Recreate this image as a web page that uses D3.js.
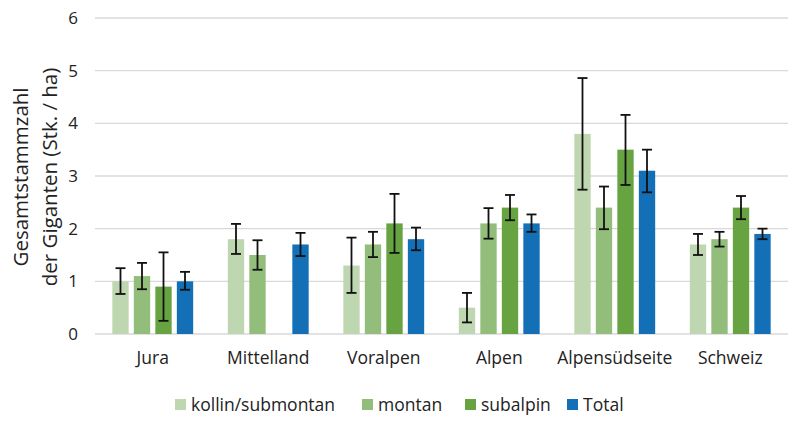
<!DOCTYPE html>
<html>
<head>
<meta charset="utf-8">
<script src="https://cdn.jsdelivr.net/npm/d3@7"></script>
<style>
  body { margin: 0; background: #fff; }
  text { font-family: "Open Sans", sans-serif; fill: #222; }
</style>
</head>
<body>
<svg id="svg"></svg>
<script>
const regions = ["Jura", "Mittelland", "Voralpen", "Alpen", "Alpensüdseite", "Schweiz"];
const series = ["kollin/submontan", "montan", "subalpin", "Total"];
const colors = ["#bfd7b1", "#93bd7b", "#68a341", "#136fb6"];

// values per series, in region order (null = no bar)
const kollinVals   = [1.0, 1.8, 1.3, 0.5, 3.8, 1.7];
const montanVals   = [1.1, 1.5, 1.7, 2.1, 2.4, 1.8];
const subalpinVals = [0.9, null, 2.1, 2.4, 3.5, 2.4];
const totalVals    = [1.0, 1.7, 1.8, 2.1, 3.1, 1.9];

// error bars [low, high]
const kollinErr   = [[0.76, 1.25], [1.52, 2.09], [0.78, 1.83], [0.22, 0.78], [2.74, 4.86], [1.50, 1.90]];
const montanErr   = [[0.85, 1.35], [1.22, 1.78], [1.46, 1.94], [1.81, 2.39], [1.99, 2.80], [1.66, 1.94]];
const subalpinErr = [[0.25, 1.55], null, [1.54, 2.66], [2.16, 2.64], [2.83, 4.16], [2.18, 2.62]];
const totalErr    = [[0.84, 1.18], [1.48, 1.92], [1.59, 2.02], [1.94, 2.27], [2.69, 3.50], [1.80, 2.00]];

const yTicks = [0, 1, 2, 3, 4, 5, 6];

const allVals = [kollinVals, montanVals, subalpinVals, totalVals];
const allErr = [kollinErr, montanErr, subalpinErr, totalErr];

const W = 800, H = 424;
const margin = {top: 18, right: 12, bottom: 90, left: 95};
const width = W - margin.left - margin.right,
      height = H - margin.top - margin.bottom;

const svg = d3.select("#svg").attr("width", W).attr("height", H);
const g = svg.append("g").attr("transform", `translate(${margin.left},${margin.top})`);

const x = d3.scaleBand().domain(regions).range([0, width]).paddingInner(0.3).paddingOuter(0.15);
const xs = d3.scaleBand().domain(series).range([0, x.bandwidth()]).paddingInner(0.24);
const y = d3.scaleLinear().domain([0, 6]).range([height, 0]);

// gridlines
g.selectAll("line.grid").data(yTicks).enter().append("line")
  .attr("x1", 0).attr("x2", width)
  .attr("y1", d => y(d)).attr("y2", d => y(d))
  .attr("stroke", "#d9d9d9").attr("stroke-width", 1.3);

// y labels
g.selectAll("text.ytick").data(yTicks).enter().append("text")
  .attr("x", -17).attr("y", d => y(d)).attr("dy", "0.35em")
  .attr("text-anchor", "end").style("font-size", "17px")
  .text(d => d);

// y title
const yt = svg.append("text")
  .attr("transform", `translate(28,177) rotate(-90)`)
  .attr("text-anchor", "middle").style("font-size", "20.5px");
yt.append("tspan").attr("x", 0).attr("dy", 0).text("Gesamtstammzahl");
yt.append("tspan").attr("x", 0).attr("dy", 29).text("der Giganten (Stk. / ha)");

// bars
const data = [];
regions.forEach((r, i) => series.forEach((s, j) => {
  if (allVals[j][i] != null) data.push({r, s, j, v: allVals[j][i], e: allErr[j][i]});
}));

g.selectAll("rect.bar").data(data).enter().append("rect")
  .attr("x", d => x(d.r) + xs(d.s))
  .attr("width", xs.bandwidth())
  .attr("y", d => y(d.v))
  .attr("height", d => y(0) - y(d.v))
  .attr("fill", d => colors[d.j]);

// error bars
const cap = 5;
const eg = g.selectAll("g.err").data(data).enter().append("g")
  .attr("stroke", "#111").attr("stroke-width", 1.8);
eg.append("line")
  .attr("x1", d => x(d.r) + xs(d.s) + xs.bandwidth() / 2)
  .attr("x2", d => x(d.r) + xs(d.s) + xs.bandwidth() / 2)
  .attr("y1", d => y(d.e[0])).attr("y2", d => y(d.e[1]));
[0, 1].forEach(k => {
  eg.append("line")
    .attr("x1", d => x(d.r) + xs(d.s) + xs.bandwidth() / 2 - cap)
    .attr("x2", d => x(d.r) + xs(d.s) + xs.bandwidth() / 2 + cap)
    .attr("y1", d => y(d.e[k])).attr("y2", d => y(d.e[k]));
});

// x labels
g.selectAll("text.xlab").data(regions).enter().append("text")
  .attr("x", d => x(d) + x.bandwidth() / 2)
  .attr("y", height + 30)
  .attr("text-anchor", "middle").style("font-size", "17.5px")
  .text(d => d);

// legend
const legendX = [175, 362, 465, 567];
const lg = svg.selectAll("g.leg").data(series).enter().append("g")
  .attr("transform", (d, i) => `translate(${legendX[i]},399)`);
lg.append("rect").attr("width", 11).attr("height", 11).attr("fill", (d, i) => colors[i]);
lg.append("text").attr("x", 16).attr("y", 5.5).attr("dy", "0.36em")
  .style("font-size", "17.5px").text(d => d);
</script>
</body>
</html>
